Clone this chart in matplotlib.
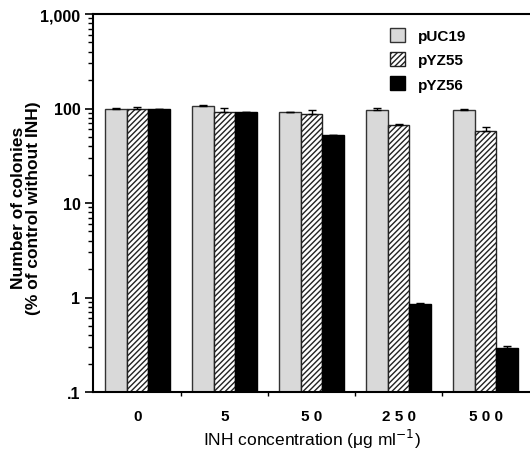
import numpy as np
import matplotlib
matplotlib.use("Agg")
import matplotlib.pyplot as plt
from matplotlib.ticker import FixedLocator, NullFormatter

plt.rcParams['font.family'] = ['Liberation Sans', 'DejaVu Sans']
plt.rcParams['hatch.linewidth'] = 1.0

# data
concentrations = ['0', '5', '5 0', '2 5 0', '5 0 0']
series = ['pUC19', 'pYZ55', 'pYZ56']
puc19 = [100, 105, 91, 97, 96]
puc19_err = [2, 4, 0, 4, 4]
pyz55 = [100, 91, 87, 67, 58]
pyz55_err = [3, 10, 10, 1, 5]
pyz56 = [100, 91, 52, 0.85, 0.29]
pyz56_err = [0, 0, 1, 0.02, 0.02]

fig = plt.figure(figsize=(5.30, 4.52), dpi=100)
ax = fig.add_axes([93 / 530, 1 - 393 / 452, 1 - 93 / 530, (393 - 15) / 452])

x = np.arange(len(concentrations))
w = 0.247
ek = dict(ecolor='black', elinewidth=1.0, capsize=3, capthick=1.0)
ax.bar(x - w, puc19, w, color='#d9d9d9', edgecolor='#333333', linewidth=1.0,
       label=series[0], yerr=[np.zeros(5), puc19_err], error_kw=ek)
ax.bar(x, pyz55, w, color='white', edgecolor='#222222', hatch='//////', linewidth=1.0,
       label=series[1], yerr=[np.zeros(5), pyz55_err], error_kw=ek)
ax.bar(x + w, pyz56, w, color='black', edgecolor='black', linewidth=1.0,
       label=series[2], yerr=[np.zeros(5), pyz56_err], error_kw=ek)

ax.set_yscale('log')
ax.set_ylim(0.1, 1000)
ax.set_xlim(-0.51, 4.51)
ax.set_yticks([0.1, 1, 10, 100, 1000])
ax.set_yticklabels(['.1', '1', '10', '100', '1,000'], fontweight='bold', fontsize=11.5)
ax.yaxis.set_minor_formatter(NullFormatter())
ax.tick_params(axis='y', which='major', direction='out', length=6, width=1.2, pad=3)
ax.tick_params(axis='y', which='minor', direction='out', length=3.5, width=1.0)

ax.set_xticks(x)
ax.set_xticklabels(concentrations, fontweight='bold', fontsize=11)
ax.xaxis.set_minor_locator(FixedLocator([0.5, 1.5, 2.5, 3.5]))
ax.tick_params(axis='x', which='major', length=0, pad=12)
ax.tick_params(axis='x', which='minor', direction='out', length=3, width=1.0)

for s in ['left', 'bottom', 'top']:
    ax.spines[s].set_linewidth(1.5)
ax.spines['right'].set_visible(False)

ax.set_xlabel('INH concentration (\u03bcg ml$^{-1}$)', fontsize=12.5)
ax.xaxis.set_label_coords(0.501, -0.092)
ax.set_ylabel('Number of colonies\n(% of control without INH)', fontsize=12.5,
              fontweight='bold', linespacing=1.0)
ax.yaxis.set_label_coords(-0.12, 0.49)

leg = ax.legend(loc='upper left', bbox_to_anchor=(390 / 530, 1 - 29 / 452),
                bbox_transform=fig.transFigure, frameon=False, borderpad=0,
                borderaxespad=0, prop={'weight': 'bold', 'size': 11},
                handlelength=1.0, handleheight=1.0, handletextpad=0.85,
                labelspacing=0.6)

fig.savefig('out.png', dpi=100)
